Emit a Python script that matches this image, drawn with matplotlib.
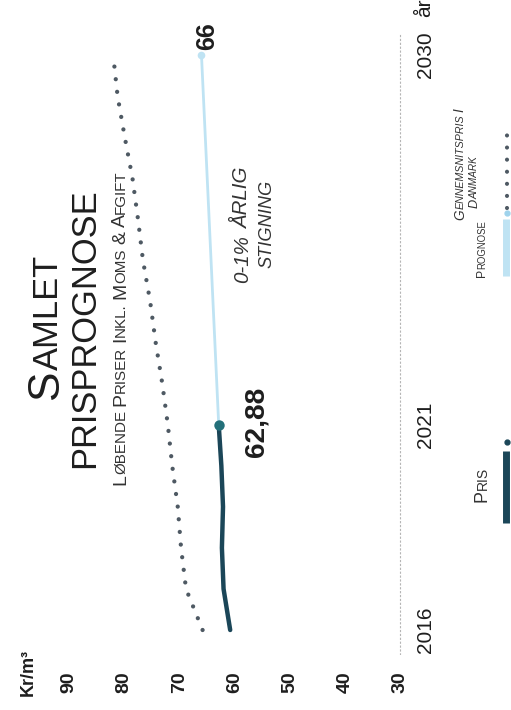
import matplotlib
matplotlib.use("Agg")
import matplotlib.pyplot as plt
from matplotlib.transforms import blended_transform_factory as btf
from matplotlib.lines import Line2D

# ---------------- data ----------------
avg_years = [2016, 2017, 2018, 2019, 2020, 2021, 2022, 2023, 2024, 2025, 2026, 2027, 2028, 2029, 2030]
avg_price = [65.8, 68.8, 69.7, 70.3, 71.3, 72.1, 73.1, 74.3, 75.3, 76.6, 77.5, 78.5, 79.9, 81.2, 82.0]
pris_years = [2016, 2017, 2018, 2019, 2020, 2021]
pris_values = [60.8, 62.0, 62.3, 62.1, 62.4, 62.88]
prog_years = [2021, 2030]
prog_values = [62.88, 66.0]
value_ticks = [90, 80, 70, 60, 50, 40, 30]
year_ticks = [2016, 2021, 2030]
label_start = "62,88"
label_end = "66"

# ---------------- style ----------------
W, H = 511, 710
FONT = ["Liberation Sans", "DejaVu Sans"]
TXT = "#1e1e1e"
C_PRIS = "#1b4658"
C_DOT = "#24707a"
C_PROG = "#bfe3f3"
C_AVG = "#4e5963"

fig = plt.figure(figsize=(W / 100, H / 100), dpi=100)
fig.patch.set_facecolor("white")


def vx(v):
    return 69 + (90 - v) * 5.52


def yy(yr):
    return 630 - (yr - 2016) * 41.07


xl = (96, 29)
yl = (2015.4, 2030.5)
left = vx(xl[0]) / W
right = vx(xl[1]) / W
top = 1 - yy(yl[1]) / H
bottom = 1 - yy(yl[0]) / H
ax = fig.add_axes([left, bottom, right - left, top - bottom])
ax.set_xlim(*xl)
ax.set_ylim(*yl)
ax.axis("off")

# baseline (value 30)
ax.axvline(30, color="#b5b5b5", lw=0.8, ls=(0, (2, 1.5)))

# average price, dotted
ax.plot(avg_price, avg_years, color=C_AVG, lw=3.1, ls=(0, (0.001, 2.95)),
        dash_capstyle="round", solid_capstyle="round")
# prognose
ax.plot(prog_values, prog_years, color=C_PROG, lw=2.0, solid_capstyle="round")
ax.plot([prog_values[-1]], [prog_years[-1]], "o", color=C_PROG, ms=5.5, mec="none")
# pris
ax.plot(pris_values, pris_years, color=C_PRIS, lw=3.2, solid_capstyle="round")
ax.plot([pris_values[-1]], [pris_years[-1]], "o", color=C_DOT, ms=7.5, mec="none")

renderer = fig.canvas.get_renderer()


def measure(s, size, weight, style):
    t = fig.text(0, 0, s, fontsize=size, family=FONT, weight=weight, style=style)
    w = t.get_window_extent(renderer).width
    t.remove()
    return w


def advance(s, size, weight, style):
    # advance width of s (pen movement), via difference trick
    return measure("H" + s + "H", size, weight, style) - measure("HH", size, weight, style)


def draw_seq(words, xc, ybot, ytop, smallcaps=True, small=0.78, weight="normal",
             style="normal", color=TXT):
    """Draw text rotated 90deg (reading upward) fitted between pixel rows ybot..ytop."""
    def items_for(base):
        items = []
        for i, w in enumerate(words):
            if i > 0:
                items.append((" ", base * small if smallcaps else base))
            if smallcaps:
                items.append((w[0], base))
                if len(w) > 1:
                    items.append((w[1:], base * small))
            else:
                items.append((w, base))
        return items

    def layout(base):
        return [(s, size, advance(s, size, weight, style)) for s, size in items_for(base)]

    target = ybot - ytop
    lay = layout(10)
    tot = sum(l for _, _, l in lay)
    base = 10 * target / tot
    lay = layout(base)
    cap = 0.716 * base * 100 / 72
    xb = xc + cap / 2
    y = ybot
    for s, size, l in lay:
        if s.strip():
            fig.text(xb / W, 1 - y / H, s, fontsize=size, family=FONT,
                     weight=weight, style=style, color=color, rotation=90,
                     rotation_mode="anchor", ha="left", va="baseline")
        y -= l
    return base


# titles
draw_seq(["SAMLET"], 42, 400, 255)
draw_seq(["PRISPROGNOSE"], 82, 468, 188, smallcaps=False)
draw_seq("LØBENDE PRISER INKL. MOMS & AFGIFT".split(), 118, 485, 170, color="#333333")

# annotation
draw_seq(["0-1%", "ÅRLIG"], 241, 283, 168, smallcaps=False, style="italic", color="#333333")
draw_seq(["STIGNING"], 265, 268, 180, smallcaps=False, style="italic", color="#333333")

# value labels
draw_seq([label_start], 253, 457, 387, smallcaps=False, weight="bold")
draw_seq([label_end], 205, 50, 22, smallcaps=False, weight="bold")

# axis unit and value tick labels
fig.text(28 / W, 1 - 673 / H, "Kr/m³", fontsize=13, family=FONT, weight="bold",
         color=TXT, rotation=90, rotation_mode="anchor", ha="center", va="center")
tv = btf(ax.transData, fig.transFigure)
for v in value_ticks:
    ax.text(v, 1 - 682 / H, str(v), transform=tv, fontsize=14, family=FONT,
            weight="bold", color=TXT, rotation=90, rotation_mode="anchor",
            ha="center", va="center", clip_on=False)

# year labels
ty = btf(fig.transFigure, ax.transData)
for yr in year_ticks:
    ax.text(425 / W, yr, str(yr), transform=ty, fontsize=15, family=FONT,
            color=TXT, rotation=90, rotation_mode="anchor", ha="center",
            va="center", clip_on=False)
fig.text(425 / W, 1 - 8 / H, "år", fontsize=15, family=FONT, color=TXT,
         rotation=90, rotation_mode="anchor", ha="center", va="center")

# legend
draw_seq(["PRIS"], 480, 502, 467, color="#333333")
draw_seq(["PROGNOSE"], 481, 277, 220, color="#333333")
draw_seq(["GENNEMSNITSPRIS", "I"], 459, 220, 108, style="italic", color="#333333")
draw_seq(["DANMARK"], 473, 208, 156, style="italic", color="#333333")


def fline(xs, ys, **kw):
    fig.add_artist(Line2D([x / W for x in xs], [1 - y / H for y in ys],
                          transform=fig.transFigure, **kw))


fline([506, 506], [451, 523], color=C_PRIS, lw=5, solid_capstyle="butt")
fline([507], [442], marker="o", color=C_PRIS, ms=3.5, ls="none")
fline([506, 506], [219, 276], color=C_PROG, lw=5, solid_capstyle="butt")
fline([507], [213], marker="o", color="#9fd3ec", ms=3.5, ls="none")
fline([507, 507], [208, 135], color=C_AVG, lw=3, ls=(0, (0.001, 2.9)),
      dash_capstyle="round")

fig.savefig("out.png", dpi=100, facecolor="white")
